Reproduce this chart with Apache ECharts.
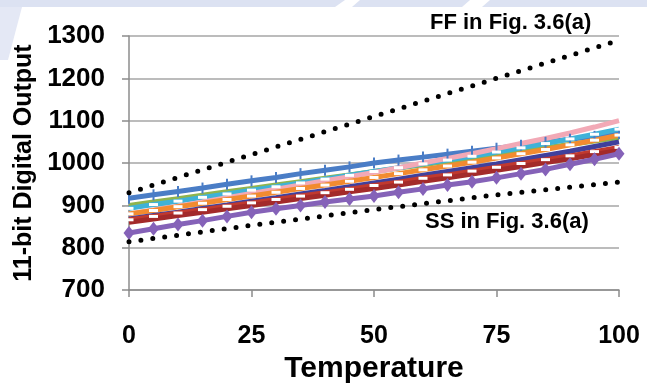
<!DOCTYPE html>
<html>
<head>
<meta charset="utf-8">
<script src="https://cdn.jsdelivr.net/npm/echarts@6/dist/echarts.min.js"></script>
<style>
  html, body { margin: 0; padding: 0; background: #fff; }
  #chart { width: 647px; height: 389px; }
</style>
</head>
<body>
<div id="chart"></div>
<script>
const temps = [0, 5, 10, 15, 20, 25, 30, 35, 40, 45, 50, 55, 60, 65, 70, 75, 80, 85, 90, 95, 100];

// measured chips (one row per chip, one value per temperature)
const blueChip = [917, 925, 933, 941, 950, 958, 966, 975, 983, 991, 1000, 1007, 1014, 1021, 1028, 1035, 1042, 1049, 1056, 1063, 1070];
const greenChip = [900, 908, 916, 924, 932, 940, 948, 956, 964, 972, 980, 988, 996, 1004, 1012, 1020, 1028, 1036, 1044, 1052, 1060];
const cyanChip = [893, 902, 910, 919, 927, 936, 944, 953, 962, 971, 980, 989, 998, 1007, 1016, 1026, 1036, 1046, 1057, 1068, 1080];
const pinkChip = [880, 889, 898, 908, 918, 928, 938, 948, 958, 968, 978, 989, 1000, 1011, 1022, 1034, 1046, 1058, 1071, 1085, 1100];
const orangeChip = [880, 888, 897, 905, 914, 922, 931, 940, 948, 957, 966, 975, 984, 993, 1002, 1012, 1022, 1032, 1043, 1054, 1066];
const indigoChip = [868, 876, 884, 893, 901, 910, 918, 927, 935, 944, 953, 962, 971, 980, 989, 998, 1008, 1018, 1028, 1039, 1050];
const redChip = [866, 874, 882, 890, 898, 906, 914, 922, 930, 938, 947, 955, 964, 972, 981, 990, 999, 1008, 1017, 1027, 1037];
const darkRedChip = [860, 868, 876, 884, 892, 900, 908, 916, 924, 932, 940, 948, 957, 965, 974, 983, 992, 1001, 1010, 1020, 1030];
const purpleChip = [835, 845, 855, 864, 874, 884, 892, 900, 908, 915, 922, 931, 939, 948, 956, 965, 975, 985, 997, 1009, 1022];

// corner references from Fig. 3.6(a)
const cornerTemps = [0, 25, 50, 75, 100];
const ffCorner = [930, 1020, 1110, 1200, 1290];
const ssCorner = [814, 853, 890, 925, 955];

const yTicks = [700, 800, 900, 1000, 1100, 1200, 1300];

const font = '"Liberation Sans", Arial, sans-serif';

const pair = (xs, ys) => xs.map((x, i) => [x, ys[i]]);

const chipLine = (values, color, marker) => {
  const s = {
    type: "line",
    data: pair(temps, values),
    lineStyle: { color: color, width: 5 },
    itemStyle: { color: color },
    symbol: "none",
    z: 3,
  };
  if (marker === "dash") {
    s.symbol = "rect";
    s.symbolSize = [9, 3];
    s.itemStyle = { color: "#ffffff" };
  } else if (marker === "diamond") {
    s.symbol = "diamond";
    s.symbolSize = [11, 14];
  } else if (marker === "tick") {
    s.symbol = "rect";
    s.symbolSize = [2, 11];
  }
  return s;
};

const cornerLine = (values) => ({
  type: "line",
  data: pair(cornerTemps, values),
  symbol: "none",
  lineStyle: { color: "#000", width: 5, type: [0, 12], cap: "round" },
  z: 4,
});

const chart = echarts.init(document.getElementById("chart"));

chart.setOption({
  animation: false,
  backgroundColor: "#fff",
  grid: { left: 129, right: 28, top: 36, bottom: 93 },
  xAxis: {
    type: "value",
    min: 0,
    max: 100,
    interval: 25,
    name: "Temperature",
    nameLocation: "middle",
    nameGap: 52,
    nameTextStyle: { fontFamily: font, fontWeight: "bold", fontSize: 30, color: "#000" },
    axisLine: { show: true, lineStyle: { color: "#8c8c8c", width: 1.5 } },
    axisTick: { show: true, length: 7, lineStyle: { color: "#8c8c8c", width: 1.5 } },
    axisLabel: { fontFamily: font, fontWeight: "bold", fontSize: 25, color: "#000", margin: 34 },
    splitLine: { show: false },
  },
  yAxis: {
    type: "value",
    min: 700,
    max: 1300,
    interval: 100,
    name: "11-bit Digital Output",
    nameLocation: "middle",
    nameGap: 91,
    nameTextStyle: { fontFamily: font, fontWeight: "bold", fontSize: 25, color: "#000" },
    axisLine: { show: true, lineStyle: { color: "#8c8c8c", width: 1.5 } },
    axisTick: { show: true, length: 7, lineStyle: { color: "#8c8c8c", width: 1.5 } },
    axisLabel: {
      fontFamily: font, fontWeight: "bold", fontSize: 26, color: "#000", margin: 24,
      formatter: (v) => (yTicks.includes(v) ? String(v) : ""),
    },
    splitLine: { show: true, lineStyle: { color: "#a6a6a6", width: 1.5 } },
  },
  graphic: [
    // faint watermark band of the scanned page
    { type: "polygon", silent: true, z: -1, shape: { points: [[0, 0], [345, 0], [335, 7], [0, 7]] }, style: { fill: "#dce2f2" } },
    { type: "polygon", silent: true, z: -1, shape: { points: [[360, 0], [470, 0], [462, 7], [352, 7]] }, style: { fill: "#dce2f2" } },
    { type: "polygon", silent: true, z: -1, shape: { points: [[490, 0], [647, 0], [647, 7], [482, 7]] }, style: { fill: "#dce2f2" } },
    { type: "polygon", silent: true, z: -1, shape: { points: [[0, 7], [22, 7], [8, 60], [0, 60]] }, style: { fill: "#e4e8f5" } },
    {
      type: "text", left: 430, top: 12, z: 10,
      style: { text: "FF in Fig. 3.6(a)", font: "bold 22px " + font, fill: "#000" },
    },
    {
      type: "text", left: 425, top: 211, z: 10,
      style: { text: "SS in Fig. 3.6(a)", font: "bold 22px " + font, fill: "#000" },
    },
  ],
  series: [
    cornerLine(ffCorner),
    cornerLine(ssCorner),
    chipLine(blueChip, "#4a7dc6", "tick"),
    chipLine(greenChip, "#8fb44e"),
    chipLine(cyanChip, "#3fb2d8", "dash"),
    chipLine(pinkChip, "#f2a9b6"),
    chipLine(orangeChip, "#f28b30", "dash"),
    chipLine(indigoChip, "#40409c"),
    chipLine(redChip, "#c0392f", "dash"),
    chipLine(darkRedChip, "#a32a2a"),
    chipLine(purpleChip, "#8562b8", "diamond"),
  ],
});
</script>
</body>
</html>
